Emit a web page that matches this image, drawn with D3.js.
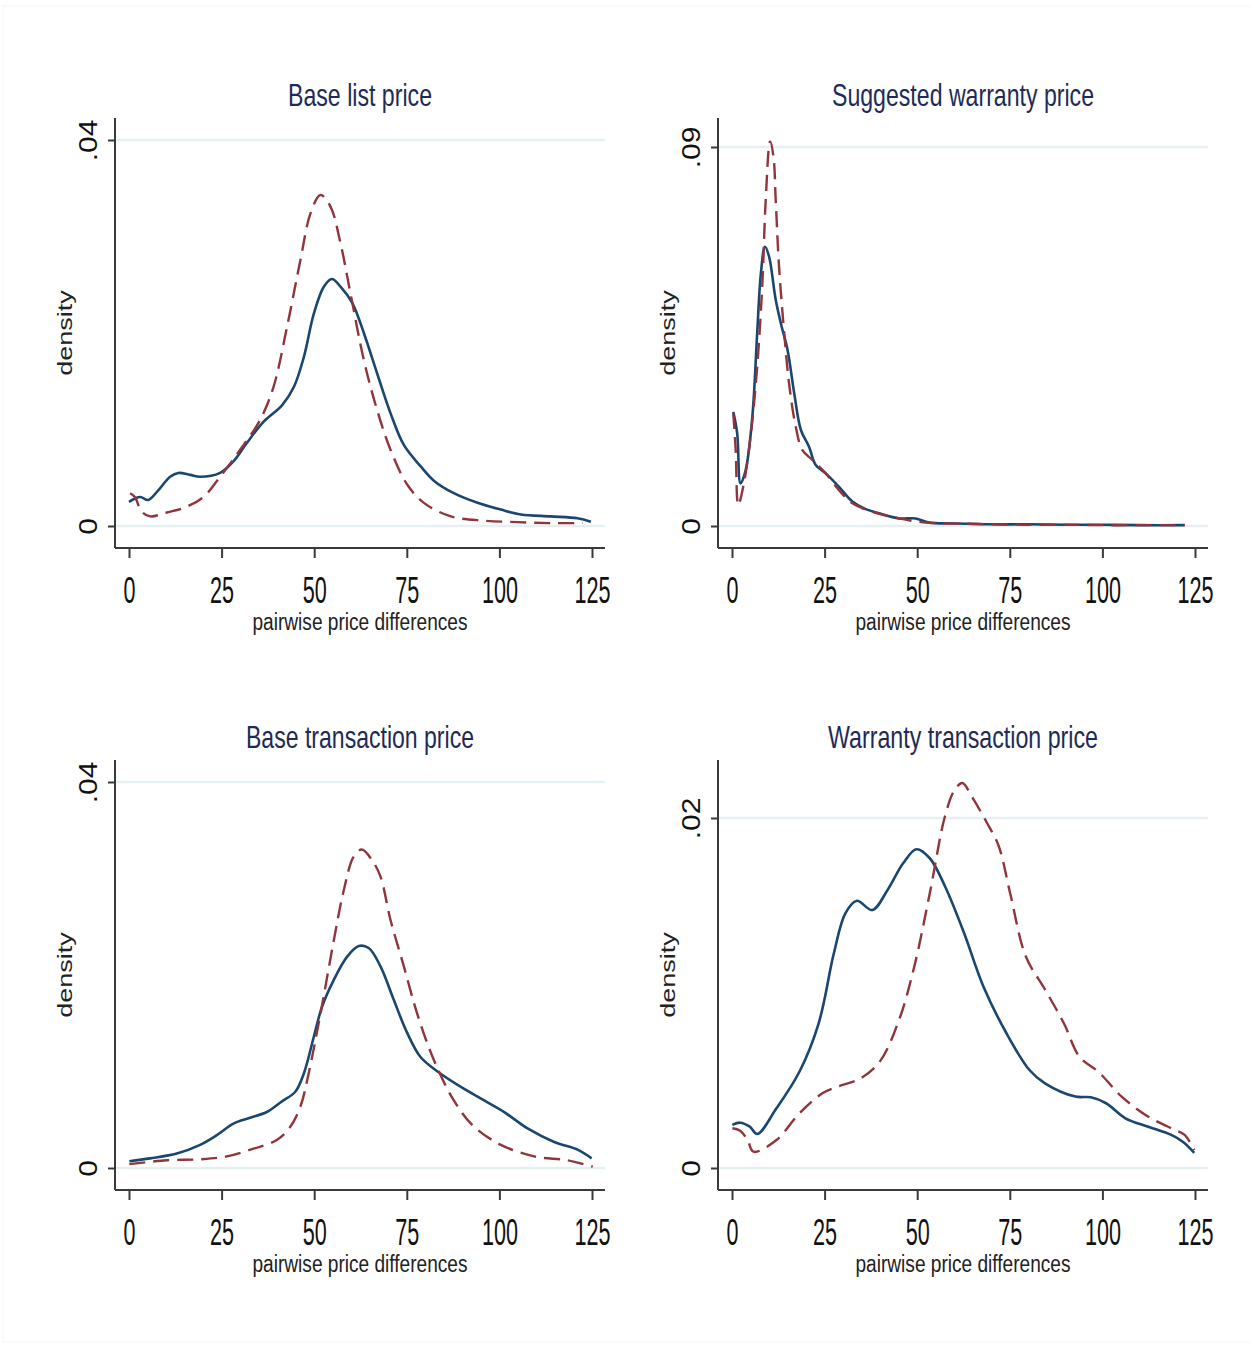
<!DOCTYPE html>
<html>
<head>
<meta charset="utf-8">
<script src="https://cdn.jsdelivr.net/npm/d3@7"></script>
<style>
body { margin: 0; background: #fff; }
svg { display: block; font-family: 'Liberation Sans', Arial, sans-serif; }
</style>
</head>
<body>
<svg id="chart" width="1251" height="1347"></svg>
<script>
// x ticks shared by all four panels
const xTicks = [0, 25, 50, 75, 100, 125];
const xTitle = 'pairwise price differences';
const yTitle = 'density';

const panelTitles = ['Base list price', 'Suggested warranty price', 'Base transaction price', 'Warranty transaction price'];
const yMaxTicks = [0.04, 0.09, 0.04, 0.02];
const yTickLabels = [['0', '.04'], ['0', '.09'], ['0', '.04'], ['0', '.02']];

// [price difference, density]
const baseListSolid = [[0, 0.0025], [3, 0.0030], [5.2, 0.0027], [7.9, 0.0037], [11.1, 0.0051], [13.3, 0.0055], [16.5, 0.0053], [19.2, 0.0051], [24.6, 0.0055], [28.2, 0.0067], [31.8, 0.0086], [36.3, 0.0108], [41.3, 0.0125], [44.5, 0.0144], [47.2, 0.0175], [49.9, 0.0220], [52.6, 0.0248], [54.8, 0.0256], [57.1, 0.0248], [60.3, 0.0231], [63.4, 0.0200], [67.0, 0.0158], [70.6, 0.0117], [74.2, 0.0084], [78.7, 0.0062], [82.3, 0.0047], [87.7, 0.0034], [94.1, 0.0024], [100.4, 0.0017], [105.8, 0.0012], [113.9, 0.0010], [121.1, 0.0008], [124.7, 0.00045]];
const baseListDashed = [[0.3, 0.0034], [1.6, 0.0030], [3.4, 0.0015], [5.7, 0.0010], [10.2, 0.0014], [15.6, 0.0020], [20.1, 0.0030], [24.6, 0.0051], [30, 0.0079], [35.4, 0.0110], [39, 0.0144], [42.7, 0.0207], [46.3, 0.0276], [49, 0.0324], [51.7, 0.0343], [54.4, 0.0331], [57.1, 0.0293], [59.8, 0.0241], [63.4, 0.0172], [67, 0.0120], [70.6, 0.0079], [75.1, 0.0043], [79.6, 0.0024], [86.9, 0.0010], [95.9, 0.00055], [104.9, 0.0004], [113.9, 0.0003], [122.5, 0.0003]];

const warrantySolid = [[0.35, 0.0271], [1.4, 0.0220], [2.3, 0.0101], [3.7, 0.0133], [5.5, 0.0260], [6.8, 0.0458], [7.8, 0.0600], [8.9, 0.0663], [10, 0.0640], [11.8, 0.0537], [13.2, 0.0481], [15.0, 0.0418], [16.8, 0.0315], [18.6, 0.0228], [20.8, 0.0188], [22.6, 0.0145], [25.3, 0.0125], [28.9, 0.0093], [32.5, 0.0058], [36.1, 0.0040], [39.7, 0.0030], [45.1, 0.0018], [49.6, 0.0018], [53.2, 0.0008], [60, 0.0006], [70, 0.0004], [80, 0.0004], [90, 0.0003], [100, 0.0003], [110, 0.0002], [122.2, 0.0002]];
const warrantyDashed = [[0.35, 0.0268], [1.0, 0.0180], [1.7, 0.0050], [3.2, 0.0101], [5.1, 0.0220], [6.8, 0.0378], [8.2, 0.0576], [9.1, 0.0774], [10.3, 0.0913], [11.2, 0.0877], [11.8, 0.0774], [12.7, 0.0616], [14.1, 0.0458], [15.4, 0.0339], [17.2, 0.0236], [19.0, 0.0180], [21.7, 0.0157], [25.3, 0.0125], [28.9, 0.0085], [32.5, 0.0054], [37.9, 0.0034], [45.1, 0.0018], [52.4, 0.0008], [60, 0.0006], [70, 0.0004], [80, 0.0003], [90, 0.0003], [100, 0.0002], [110, 0.0002], [122.2, 0.0002]];

const baseTransSolid = [[0.1, 0.0007], [5.7, 0.0010], [12.9, 0.0015], [19.2, 0.0024], [23.7, 0.0034], [28.2, 0.0046], [32.7, 0.0052], [37.2, 0.0058], [41.3, 0.0069], [44.9, 0.0079], [47.2, 0.0098], [49.9, 0.0136], [52.1, 0.0167], [55.3, 0.0195], [58.9, 0.0219], [62.0, 0.0230], [64.7, 0.0228], [67.9, 0.0209], [71.5, 0.0174], [75.1, 0.0140], [78.7, 0.0115], [83.3, 0.0100], [89.6, 0.0084], [95.9, 0.0070], [101.3, 0.0058], [107.6, 0.0041], [114.8, 0.0027], [121.1, 0.0019], [124.9, 0.0010]];
const baseTransDashed = [[0.1, 0.0004], [10.2, 0.0008], [19.2, 0.0009], [26.4, 0.0012], [33.6, 0.0020], [39.9, 0.0029], [43.6, 0.0043], [46.3, 0.0064], [48.5, 0.0098], [51.7, 0.0160], [55.3, 0.0236], [58.0, 0.0288], [60.7, 0.0323], [62.9, 0.0330], [65.6, 0.0319], [67.9, 0.0302], [70.6, 0.0257], [74.2, 0.0209], [77.8, 0.0160], [82.3, 0.0112], [87.7, 0.0070], [93.1, 0.0043], [100.4, 0.0024], [109.4, 0.0012], [118.4, 0.0008], [125.2, 0.00014]];

const warrTransSolid = [[0.1, 0.00246], [2.2, 0.00259], [4.8, 0.00236], [6.8, 0.00194], [12.0, 0.00341], [18.2, 0.0055], [23.4, 0.00827], [27.5, 0.01227], [30.6, 0.01455], [33.7, 0.01527], [37.9, 0.01474], [42.0, 0.01589], [46.2, 0.01741], [49.8, 0.01821], [53.4, 0.0177], [57.5, 0.0161], [62.7, 0.0134], [67.9, 0.01036], [74.1, 0.0077], [80.3, 0.0056], [84.5, 0.00484], [92.7, 0.00408], [96.9, 0.00404], [101, 0.0037], [106.2, 0.00284], [112.4, 0.00236], [118.6, 0.00189], [121.7, 0.0015], [124.8, 0.00087]];
const warrTransDashed = [[0.1, 0.00227], [2.2, 0.00213], [4.2, 0.0016], [5.8, 0.00093], [12.0, 0.0016], [18.2, 0.00312], [24.4, 0.00427], [28.5, 0.00465], [34.8, 0.00513], [39.9, 0.00608], [45.1, 0.00846], [49.2, 0.0115], [53.4, 0.0157], [57.5, 0.0201], [60.1, 0.0216], [62.2, 0.0220], [64.8, 0.0212], [68.9, 0.0197], [72.0, 0.0184], [75.1, 0.0157], [79.3, 0.0121], [84.5, 0.0102], [89.6, 0.00827], [93.8, 0.00636], [98.9, 0.0055], [105.2, 0.00408], [112.4, 0.00293], [119.6, 0.00217], [122.2, 0.00189], [124.8, 0.00103]];

const solidSeries = [baseListSolid, warrantySolid, baseTransSolid, warrTransSolid];
const dashedSeries = [baseListDashed, warrantyDashed, baseTransDashed, warrTransDashed];

// layout: left axis x, bottom axis y, top pixel of the max y tick
const titleWidths = [144, 262, 228, 270];
const layout = [
	{ ax: 115, by: 548, top: 140 },
	{ ax: 718, by: 548, top: 147 },
	{ ax: 115, by: 1190, top: 782 },
	{ ax: 718, by: 1190, top: 818 }
];

let svg = d3.select('#chart');

svg.append('rect')
	.attr('x', 3).attr('y', 6)
	.attr('width', 1260).attr('height', 1336)
	.attr('fill', 'none')
	.attr('stroke', '#f6f6f6');

let drawPanel = (i) => {
	let L = layout[i];
	let right = L.ax + 490;
	let axisTop = L.by - 430;

	let x = d3.scaleLinear().domain([0, 125]).range([L.ax + 14, L.ax + 477]);
	let y = d3.scaleLinear().domain([0, yMaxTicks[i]]).range([L.by - 22, L.top]);

	let g = svg.append('g');

	// gridlines
	g.selectAll('.grid')
		.data([0, yMaxTicks[i]])
		.enter().append('line')
		.attr('x1', L.ax).attr('x2', right)
		.attr('y1', (d) => y(d)).attr('y2', (d) => y(d))
		.attr('stroke', '#e6eff1')
		.attr('stroke-width', 2.4);

	// x axis
	let xa = g.append('g')
		.attr('transform', 'translate(0,' + L.by + ')')
		.call(d3.axisBottom(x).tickValues(xTicks).tickSize(10).tickSizeOuter(0));
	xa.select('.domain').remove();
	xa.append('line')
		.attr('x1', L.ax).attr('x2', right)
		.attr('stroke', '#3a3a3a').attr('stroke-width', 2);
	xa.selectAll('.tick line').attr('stroke', '#3a3a3a').attr('stroke-width', 2);
	xa.selectAll('.tick text')
		.attr('y', 55).attr('dy', null)
		.attr('fill', '#111')
		.attr('font-size', 36)
		.attr('font-family', "'Liberation Sans', Arial, sans-serif")
		.attr('textLength', (d) => String(d).length * 12)
		.attr('lengthAdjust', 'spacingAndGlyphs');

	// y axis
	let ya = g.append('g')
		.attr('transform', 'translate(' + L.ax + ',0)')
		.call(d3.axisLeft(y).tickValues([0, yMaxTicks[i]]).tickSize(7).tickSizeOuter(0)
			.tickFormat((d, k) => yTickLabels[i][k]));
	ya.select('.domain').remove();
	ya.append('line')
		.attr('y1', axisTop).attr('y2', L.by)
		.attr('stroke', '#3a3a3a').attr('stroke-width', 2);
	ya.selectAll('.tick line').attr('stroke', '#3a3a3a').attr('stroke-width', 2);
	ya.selectAll('.tick text')
		.attr('x', null).attr('dy', null)
		.attr('text-anchor', 'middle')
		.attr('transform', 'translate(-18,0) rotate(-90) scale(1,0.86)')
		.attr('fill', '#111')
		.attr('font-size', 30)
		.attr('font-family', "'Liberation Sans', Arial, sans-serif");

	// axis titles
	g.append('text')
		.attr('transform', 'translate(' + (L.ax - 43) + ',' + ((axisTop + L.by) / 2) + ') rotate(-90) scale(1,0.75)')
		.attr('text-anchor', 'middle')
		.attr('font-size', 27)
		.attr('fill', '#222')
		.text(yTitle);

	g.append('text')
		.attr('x', (L.ax + right) / 2)
		.attr('y', L.by + 82)
		.attr('text-anchor', 'middle')
		.attr('font-size', 23)
		.attr('fill', '#222')
		.attr('textLength', 215)
		.attr('lengthAdjust', 'spacingAndGlyphs')
		.text(xTitle);

	// panel title
	g.append('text')
		.attr('x', (L.ax + right) / 2)
		.attr('y', L.by - 442)
		.attr('text-anchor', 'middle')
		.attr('font-size', 32)
		.attr('fill', '#1e2b58')
		.attr('textLength', titleWidths[i])
		.attr('lengthAdjust', 'spacingAndGlyphs')
		.text(panelTitles[i]);

	let line = d3.line()
		.x((d) => x(d[0]))
		.y((d) => y(d[1]))
		.curve(d3.curveCatmullRom);

	g.append('path')
		.datum(solidSeries[i])
		.attr('d', line)
		.attr('fill', 'none')
		.attr('stroke', '#1a476f')
		.attr('stroke-width', 2.6);

	g.append('path')
		.datum(dashedSeries[i])
		.attr('d', line)
		.attr('fill', 'none')
		.attr('stroke', '#90353b')
		.attr('stroke-width', 2.4)
		.attr('stroke-dasharray', '16,8');
};

[0, 1, 2, 3].forEach(drawPanel);
</script>
</body>
</html>
